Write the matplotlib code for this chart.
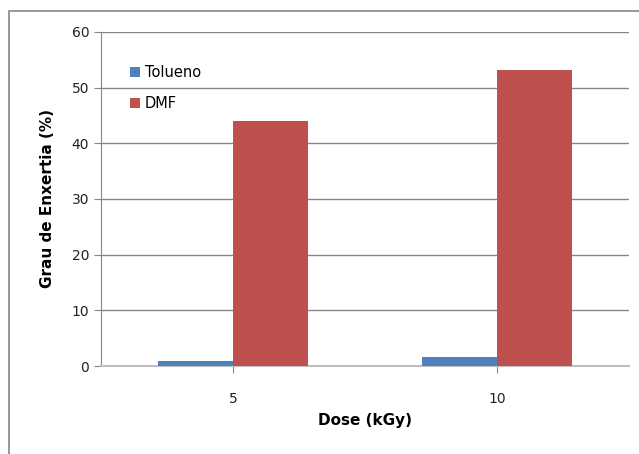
import matplotlib.pyplot as plt
import matplotlib.patches as patches
import numpy as np

doses = ['5', '10']
tolueno = [0.9, 1.6]
dmf = [44.0, 53.2]

fig = plt.figure(figsize=(6.39, 4.54), dpi=100)
ax = fig.add_axes([101/639, 88/454, 528/639, 334/454])

# outer chart frame (Excel style)
frame = patches.Rectangle((9/639, -0.1), 1.2, 1.1 - 11/454, transform=fig.transFigure,
                          fill=False, edgecolor='#868686', linewidth=1.2, clip_on=False)
fig.patches.append(frame)

x = np.arange(len(doses))
w = 0.284
ax.bar(x - w/2, tolueno, w, color='#4F81BD', label='Tolueno', zorder=3)
ax.bar(x + w/2, dmf, w, color='#C0504D', label='DMF', zorder=3)

ax.set_xlim(-0.5, 1.5)
ax.set_ylim(0, 60)
ax.set_yticks(range(0, 61, 10))
ax.set_xticks(x)
ax.set_xticklabels(doses)
ax.yaxis.grid(True, color='#868686', linewidth=1.0, zorder=0)

for s in ['top', 'right']:
    ax.spines[s].set_visible(False)
ax.spines['left'].set_color('#868686')
ax.spines['bottom'].set_color('#BFBFBF')
ax.spines['bottom'].set_linewidth(1.5)
ax.tick_params(axis='y', colors='#868686', labelcolor='#222222', labelsize=10, length=5)
ax.tick_params(axis='x', colors='#868686', labelcolor='#222222', labelsize=10, length=5, pad=14)

ax.set_xlabel('Dose (kGy)', fontsize=11, fontweight='bold', labelpad=5)
ax.set_ylabel('Grau de Enxertia (%)', fontsize=11, fontweight='bold', labelpad=12)

ax.legend(loc='upper left', bbox_to_anchor=(0.03, 0.94), frameon=False, fontsize=10.5,
          handlelength=0.7, handleheight=0.7, handletextpad=0.3, labelspacing=1.1)

fig.savefig('out.png', dpi=100)
